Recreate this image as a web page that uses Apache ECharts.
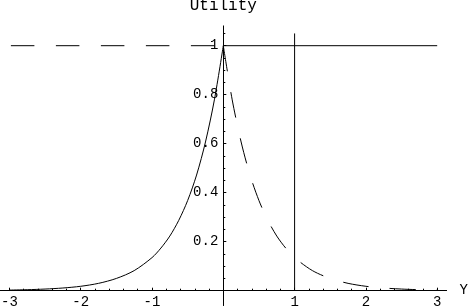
<!DOCTYPE html>
<html>
<head>
<meta charset="utf-8">
<script src="https://cdn.jsdelivr.net/npm/echarts@6/dist/echarts.min.js"></script>
<style>
html,body{margin:0;padding:0;background:#fff;}
#c{width:470px;height:306px;}
</style>
</head>
<body>
<div id="c"></div>
<script>
// ---- data ----
const titleText = 'Utility';
const xName = 'Y';
const xLeft = [-3, -2.75, -2.5, -2.25, -2, -1.75, -1.5, -1.25, -1, -0.875, -0.75, -0.625, -0.5, -0.375, -0.25, -0.125, 0];
const solidLeft = [0.0025, 0.0041, 0.0067, 0.011, 0.018, 0.030, 0.050, 0.082, 0.135, 0.174, 0.223, 0.287, 0.368, 0.472, 0.607, 0.779, 1];
const solidFlatX = [0, 3];
const solidFlatY = [1, 1];
const dashedFlatX = [-3, 0];
const dashedFlatY = [1, 1];
const xRight = [0, 0.125, 0.25, 0.375, 0.5, 0.625, 0.75, 0.875, 1, 1.25, 1.5, 1.75, 2, 2.25, 2.5, 2.75, 3];
const dashedRight = [1, 0.779, 0.607, 0.472, 0.368, 0.287, 0.223, 0.174, 0.135, 0.082, 0.050, 0.030, 0.018, 0.011, 0.0067, 0.0041, 0.0025];
const vlineX = [1, 1];
const vlineY = [0, 1.05];
const xTickLabels = [-3, -2, -1, 1, 2, 3];
const xMajorTicks = [-3, -2, -1, 0, 1, 2, 3];
const xMinorTicks = [];
for (let i = -15; i <= 15; i++) { if (i % 5 !== 0) xMinorTicks.push(i / 5); }
const yTickLabels = [0.2, 0.4, 0.6, 0.8, 1];
const yMajorTicks = [0, 0.2, 0.4, 0.6, 0.8, 1];
const yMinorTicks = [];
for (let i = 1; i <= 21; i++) { if (i % 4 !== 0) yMinorTicks.push(i / 20); }

const zip = (a, b) => a.map((v, i) => [v, b[i]]);
const font = 'Liberation Mono, Courier New, monospace';

// layout (pixels): origin and units
const X0 = 223.3, UX = 71.3, Y0 = 290.7, UY = 245;
const xMin = -3.13, xMax = 3.13, yMin = 0, yMax = 1.08, yAxisLow = -0.06;

const chart = echarts.init(document.getElementById('c'), null, {renderer: 'canvas'});
const axisLineStyle = {color: '#000', width: 1};
const lineCommon = {type: 'line', symbol: 'none', silent: true, animation: false, xAxisIndex: 0, yAxisIndex: 0};
chart.setOption({
  animation: false,
  backgroundColor: '#fff',
  title: {
    text: titleText, left: X0, top: -2, padding: 0, textAlign: 'center',
    textStyle: {fontFamily: font, fontSize: 16, fontWeight: 'normal', color: '#000'}
  },
  grid: [{
    left: X0 + xMin * UX, top: Y0 - yMax * UY,
    width: (xMax - xMin) * UX, height: (yMax - yMin) * UY,
    containLabel: false, outerBoundsMode: 'none'
  }, {
    left: X0, top: Y0 - yMax * UY,
    width: 100, height: (yMax - yAxisLow) * UY,
    containLabel: false, outerBoundsMode: 'none'
  }],
  xAxis: [{
    gridIndex: 0, type: 'value', min: xMin, max: xMax, position: 'bottom',
    name: xName, nameLocation: 'end', nameGap: 13,
    nameTextStyle: {fontFamily: font, fontSize: 14, color: '#000', verticalAlign: 'middle', align: 'left'},
    axisLine: {onZero: false, lineStyle: axisLineStyle},
    axisTick: {show: true, inside: true, length: 3, customValues: xMajorTicks, lineStyle: axisLineStyle},
    axisLabel: {show: true, customValues: xTickLabels, margin: 5, fontFamily: font, fontSize: 14, color: '#000'},
    splitLine: {show: false}
  }, {
    gridIndex: 0, type: 'value', min: xMin, max: xMax, position: 'bottom',
    axisLine: {onZero: false, lineStyle: axisLineStyle},
    axisTick: {show: true, inside: true, length: 2, customValues: xMinorTicks, lineStyle: axisLineStyle},
    axisLabel: {show: false},
    splitLine: {show: false}
  }, {
    gridIndex: 1, type: 'value', min: 0, max: 1, show: false
  }],
  yAxis: [{
    gridIndex: 0, type: 'value', min: yMin, max: yMax, show: false
  }, {
    gridIndex: 1, type: 'value', min: yAxisLow, max: yMax, position: 'left',
    axisLine: {onZero: false, lineStyle: axisLineStyle},
    axisTick: {show: true, inside: true, length: 3, customValues: yMajorTicks, lineStyle: axisLineStyle},
    axisLabel: {show: true, customValues: yTickLabels, margin: 5, fontFamily: font, fontSize: 14, color: '#000',
      formatter: function (v) { return Math.abs(v - 1) < 1e-9 ? '1' : Number(v).toFixed(1); }},
    splitLine: {show: false}
  }, {
    gridIndex: 1, type: 'value', min: yAxisLow, max: yMax, position: 'left',
    axisLine: {onZero: false, lineStyle: axisLineStyle},
    axisTick: {show: true, inside: true, length: 2, customValues: yMinorTicks, lineStyle: axisLineStyle},
    axisLabel: {show: false},
    splitLine: {show: false}
  }],
  series: [
    Object.assign({}, lineCommon, {data: zip(xLeft, solidLeft), smooth: 0.3,
      lineStyle: {color: '#000', width: 1}}),
    Object.assign({}, lineCommon, {data: zip(solidFlatX, solidFlatY),
      lineStyle: {color: '#000', width: 1}}),
    Object.assign({}, lineCommon, {data: zip(vlineX, vlineY),
      lineStyle: {color: '#000', width: 1}}),
    Object.assign({}, lineCommon, {data: zip(dashedFlatX, dashedFlatY),
      lineStyle: {color: '#000', width: 1, type: [23.5, 21.5], dashOffset: -1.5}}),
    Object.assign({}, lineCommon, {data: zip(xRight, dashedRight), smooth: 0.3,
      lineStyle: {color: '#000', width: 1, type: [26, 21]}})
  ]
});
</script>
</body>
</html>
